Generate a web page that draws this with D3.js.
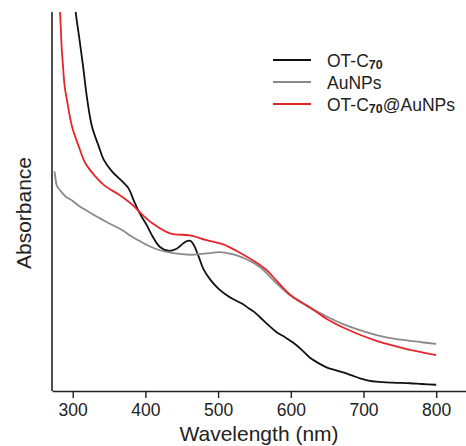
<!DOCTYPE html>
<html>
<head>
<meta charset="utf-8">
<script src="https://cdn.jsdelivr.net/npm/d3@7"></script>
<style>
  body { margin: 0; background: #fff; }
  text { font-family: "Liberation Sans", Arial, sans-serif; }
</style>
</head>
<body>
<div id="chart"></div>
<script>
// wavelength (nm) and absorbance (a.u.)
var wlBlack = [300, 304, 309, 314, 320, 326.5, 335.8, 342.6, 354, 367.8, 377, 384, 392.6, 402, 410, 420, 431.5, 443, 452, 457, 462, 466, 473, 480, 490, 500, 510, 521, 532, 542, 550, 558, 570, 581, 592, 603, 614, 626, 638, 649, 660, 672, 684, 695, 707, 718, 740, 764, 780, 800]
var absBlack = [2.142, 2.0, 1.863, 1.721, 1.537, 1.396, 1.291, 1.221, 1.159, 1.107, 1.068, 1.005, 0.935, 0.874, 0.815, 0.760, 0.740, 0.751, 0.779, 0.791, 0.792, 0.774, 0.712, 0.642, 0.584, 0.542, 0.511, 0.484, 0.463, 0.437, 0.416, 0.388, 0.345, 0.309, 0.284, 0.256, 0.221, 0.177, 0.147, 0.125, 0.111, 0.098, 0.082, 0.067, 0.055, 0.049, 0.044, 0.041, 0.037, 0.033]

var wlGray = [275, 276.5, 278.4, 283, 289.8, 300, 308.3, 320, 331, 343, 354, 367.8, 380, 392.6, 406, 415.5, 438, 461, 484, 502.6, 521, 539, 557.7, 580, 599, 626, 650, 672, 695, 718, 741, 764, 782, 800]
var absGray = [1.159, 1.116, 1.081, 1.058, 1.028, 1.003, 0.978, 0.950, 0.925, 0.900, 0.877, 0.850, 0.818, 0.790, 0.763, 0.748, 0.727, 0.719, 0.726, 0.733, 0.721, 0.695, 0.653, 0.570, 0.505, 0.440, 0.392, 0.353, 0.321, 0.295, 0.276, 0.265, 0.256, 0.249]

var wlRed = [279, 282.5, 285, 286.5, 289, 292, 299, 308.3, 317.3, 331, 344.8, 363.3, 381.6, 392.6, 409, 433.8, 461.3, 484.3, 507, 530, 553, 567, 580, 599, 626, 650, 672, 695, 718, 741, 764, 782, 800]
var absRed = [2.168, 2.0, 1.8, 1.721, 1.605, 1.537, 1.396, 1.291, 1.203, 1.133, 1.081, 1.037, 0.984, 0.942, 0.887, 0.832, 0.821, 0.796, 0.774, 0.730, 0.677, 0.637, 0.584, 0.508, 0.442, 0.379, 0.335, 0.297, 0.265, 0.239, 0.217, 0.203, 0.189]

var seriesNames = ['OT-C70', 'AuNPs', 'OT-C70@AuNPs']
var seriesColors = ['#111111', '#8a8a8a', '#e4262b']
var xTicks = [300, 400, 500, 600, 700, 800]

var W = 466, H = 446
var plotL = 52, plotT = 12, plotR = 466, plotB = 391

var svg = d3.select('#chart').append('svg')
  .attr('width', W)
  .attr('height', H)

var x = d3.scaleLinear().domain([271.5, 841]).range([plotL, plotR])
var y = d3.scaleLinear().domain([0, 2]).range([plotB, plotT])

svg.append('clipPath').attr('id', 'plotclip')
  .append('rect')
  .attr('x', plotL).attr('y', plotT)
  .attr('width', plotR - plotL).attr('height', plotB - plotT)

var series = [
  { name: seriesNames[0], color: seriesColors[0], pts: d3.zip(wlBlack, absBlack) },
  { name: seriesNames[1], color: seriesColors[1], pts: d3.zip(wlGray, absGray) },
  { name: seriesNames[2], color: seriesColors[2], pts: d3.zip(wlRed, absRed) }
]

var line = d3.line()
  .x(function(d) { return x(d[0]) })
  .y(function(d) { return y(d[1]) })
  .curve(d3.curveCatmullRom.alpha(0.5))

svg.append('g').attr('clip-path', 'url(#plotclip)')
  .selectAll('path')
  .data(series)
  .enter().append('path')
  .attr('d', function(d) { return line(d.pts) })
  .attr('fill', 'none')
  .attr('stroke', function(d) { return d.color })
  .attr('stroke-width', 1.8)

// x axis
var xAxis = svg.append('g')
  .attr('transform', 'translate(0,' + plotB + ')')
  .call(d3.axisBottom(x).tickValues(xTicks).tickSize(7).tickPadding(6).tickSizeOuter(0))
xAxis.select('.domain').attr('stroke', '#222').attr('stroke-width', 1.6)
xAxis.selectAll('.tick line').attr('stroke', '#222').attr('stroke-width', 1.4)
xAxis.selectAll('.tick text')
  .attr('fill', '#222')
  .style('font-size', '17.5px')
  .style('font-family', '"Liberation Sans", Arial, sans-serif')

// y axis, line only
svg.append('line')
  .attr('x1', plotL).attr('x2', plotL)
  .attr('y1', plotT).attr('y2', plotB)
  .attr('stroke', '#222').attr('stroke-width', 1.6)

svg.append('text')
  .attr('x', (plotL + plotR) / 2)
  .attr('y', 441)
  .attr('text-anchor', 'middle')
  .style('font-size', '21px')
  .attr('fill', '#222')
  .text('Wavelength (nm)')

svg.append('text')
  .attr('transform', 'translate(31,213) rotate(-90)')
  .attr('text-anchor', 'middle')
  .style('font-size', '21px')
  .attr('fill', '#222')
  .text('Absorbance')

// legend
var legend = svg.append('g')
var rows = legend.selectAll('g')
  .data(series)
  .enter().append('g')
  .attr('transform', function(d, i) { return 'translate(273,' + (60 + i * 22) + ')' })

rows.append('line')
  .attr('x1', 0).attr('x2', 38)
  .attr('stroke', function(d) { return d.color })
  .attr('stroke-width', 2)

var labels = rows.append('text')
  .attr('x', 54)
  .attr('y', 6.5)
  .style('font-size', '17.5px')
  .attr('fill', '#222')

labels.each(function(d) {
  var t = d3.select(this)
  var parts = d.name.split('70')
  if (parts.length > 1) {
    t.append('tspan').text(parts[0])
    t.append('tspan').attr('dy', 2).style('font-size', '12.5px').style('font-weight', 'bold').text('70')
    t.append('tspan').attr('dy', -2).text(parts[1])
  } else {
    t.text(d.name)
  }
})
</script>
</body>
</html>
